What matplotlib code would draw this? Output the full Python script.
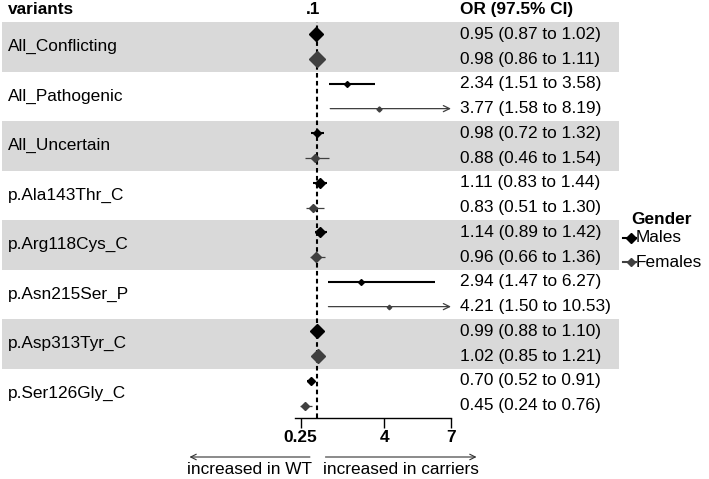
import matplotlib
matplotlib.use("Agg")
import matplotlib.pyplot as plt
from matplotlib.lines import Line2D
from matplotlib.patches import Rectangle
from matplotlib.transforms import blended_transform_factory

plt.rcParams['font.family'] = ['Liberation Sans', 'DejaVu Sans']
FS = 12.4

# data
variants = ["All_Conflicting", "All_Pathogenic", "All_Uncertain", "p.Ala143Thr_C",
            "p.Arg118Cys_C", "p.Asn215Ser_P", "p.Asp313Tyr_C", "p.Ser126Gly_C"]
male_or = [0.95, 2.34, 0.98, 1.11, 1.14, 2.94, 0.99, 0.70]
male_lo = [0.87, 1.51, 0.72, 0.83, 0.89, 1.47, 0.88, 0.52]
male_hi = [1.02, 3.58, 1.32, 1.44, 1.42, 6.27, 1.10, 0.91]
female_or = [0.98, 3.77, 0.88, 0.83, 0.96, 4.21, 1.02, 0.45]
female_lo = [0.86, 1.58, 0.46, 0.51, 0.66, 1.50, 0.85, 0.24]
female_hi = [1.11, 8.19, 1.54, 1.30, 1.36, 10.53, 1.21, 0.76]
x_ticks = [0.25, 4, 7]

# box sizes as drawn (points)
male_ms = [7.0, 3.0, 4.2, 5.0, 5.5, 3.0, 7.5, 4.5]
female_ms = [7.8, 2.6, 4.0, 4.2, 5.0, 2.3, 7.5, 4.0]

male_col = 'black'
female_col = '#404040'
stripe_col = '#d9d9d9'

W, H = 709, 479
fig = plt.figure(figsize=(W / 100, H / 100), dpi=100)
ax = fig.add_axes([295 / W, 1 - 418 / H, 156 / W, 396 / H])
ax.patch.set_alpha(0)
xmax = 7
ax.set_xlim(0, xmax)
ax.set_ylim(2 * len(variants), 0)

row = blended_transform_factory(fig.transFigure, ax.transData)

# stripes for every other variant
for i in range(0, len(variants), 2):
    ax.add_patch(Rectangle((2 / W, 2 * i), 617 / W, 2, transform=row,
                           facecolor=stripe_col, edgecolor='none',
                           clip_on=False, zorder=0))

ax.axvline(1, color='black', lw=1.5, ls=(0, (2.2, 1.6)), zorder=2)


def draw_ci(y, est, lo, hi, col, lw, ms):
    if hi > xmax:
        ax.annotate('', xy=(xmax, y), xytext=(lo, y),
                    arrowprops=dict(arrowstyle='->,head_length=0.45,head_width=0.22',
                                    color=col, lw=lw, shrinkA=0, shrinkB=0),
                    zorder=3)
    else:
        ax.plot([lo, hi], [y, y], color=col, lw=lw, solid_capstyle='butt', zorder=3)
    ax.plot(est, y, marker='D', ms=ms, color=col, mec=col, zorder=4)


for i, name in enumerate(variants):
    ym, yf = 2 * i + 0.5, 2 * i + 1.5
    draw_ci(ym, male_or[i], male_lo[i], male_hi[i], male_col, 1.5, male_ms[i])
    draw_ci(yf, female_or[i], female_lo[i], female_hi[i], female_col, 0.9, female_ms[i])
    ax.text(8 / W, 2 * i + 1, name, transform=row, ha='left', va='center', fontsize=FS)
    ax.text(460 / W, ym, f"{male_or[i]:.2f} ({male_lo[i]:.2f} to {male_hi[i]:.2f})",
            transform=row, ha='left', va='center', fontsize=FS)
    ax.text(460 / W, yf, f"{female_or[i]:.2f} ({female_lo[i]:.2f} to {female_hi[i]:.2f})",
            transform=row, ha='left', va='center', fontsize=FS)

# header
ax.text(8 / W, -0.5, 'variants', transform=row, ha='left', va='center',
        fontsize=FS, weight='bold')
ax.text(313 / W, -0.5, '.1', transform=row, ha='center', va='center',
        fontsize=FS, weight='bold')
ax.text(460 / W, -0.5, 'OR (97.5% CI)', transform=row, ha='left', va='center',
        fontsize=FS, weight='bold')

# axis
for s in ['left', 'right', 'top']:
    ax.spines[s].set_visible(False)
ax.spines['bottom'].set_linewidth(1.0)
ax.set_yticks([])
ax.set_xticks(x_ticks)
ax.set_xticklabels([f"{t:g}" for t in x_ticks], fontsize=FS, weight='bold')
ax.tick_params(axis='x', length=7, width=1.0, pad=1.5)

# direction arrows under the axis
ya = 1 - 457 / H
fig.add_artist(plt.matplotlib.patches.FancyArrowPatch(
    (312.7 / W, ya), (186.7 / W, ya), transform=fig.transFigure,
    arrowstyle='->,head_length=4,head_width=2', color='#333333', lw=0.8))
fig.add_artist(plt.matplotlib.patches.FancyArrowPatch(
    (322.7 / W, ya), (479.3 / W, ya), transform=fig.transFigure,
    arrowstyle='->,head_length=4,head_width=2', color='#333333', lw=0.8))
fig.text(312 / W, 1 - 470 / H, 'increased in WT', ha='right', va='center', fontsize=FS)
fig.text(323 / W, 1 - 470 / H, 'increased in carriers', ha='left', va='center', fontsize=FS)

# legend
fig.text(662 / W, 1 - 220 / H, 'Gender', ha='center', va='center', fontsize=FS, weight='bold')
for label, col, yy, ms in [('Males', male_col, 237.7, 5.0), ('Females', female_col, 262.3, 4.2)]:
    y = 1 - yy / H
    fig.add_artist(Line2D([623 / W, 630.5 / W, 636 / W], [y, y, y], transform=fig.transFigure,
                          color=col, lw=1.5, marker='D', ms=ms, markevery=[1]))
    fig.text(636 / W, y, label, ha='left', va='center', fontsize=FS)

fig.savefig('out.png', dpi=100)
